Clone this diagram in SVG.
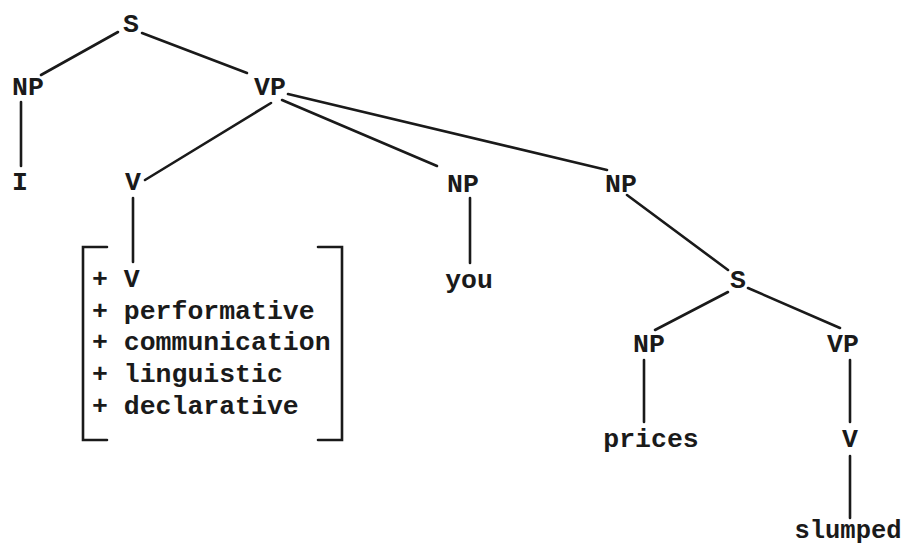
<svg xmlns="http://www.w3.org/2000/svg" width="907" height="548" viewBox="0 0 907 548">
<style>
text{font-family:"Liberation Mono","Courier New",monospace;font-weight:bold;font-size:26.5px;fill:#1a1a1a}
.n{text-anchor:middle}
.e line,.e path{stroke:#1a1a1a;stroke-width:2.6;fill:none;stroke-linecap:round}
</style>
<rect width="907" height="548" fill="#fff"/>
<g class="e" id="connectors">
<line x1="118" y1="32" x2="41" y2="75"/>
<line x1="142" y1="33" x2="247" y2="73"/>
<line x1="21" y1="102" x2="21" y2="166"/>
<line x1="271" y1="103" x2="145" y2="180"/>
<line x1="282" y1="100" x2="437" y2="166"/>
<line x1="288" y1="94" x2="607" y2="170"/>
<line x1="627" y1="195" x2="728" y2="270"/>
<line x1="133" y1="198" x2="133" y2="262"/>
<line x1="470" y1="198" x2="470" y2="263"/>
<line x1="728" y1="292" x2="655" y2="330"/>
<line x1="748" y1="288" x2="840" y2="328"/>
<line x1="644" y1="360" x2="644" y2="422"/>
<line x1="850" y1="360" x2="850" y2="422"/>
<line x1="850" y1="456" x2="850" y2="518"/>
<path d="M107 247 H83 V440 H107"/>
<path d="M318 247 H342 V440 H318"/>
</g>
<g id="S"><text class="n" x="131" y="32">S</text></g>
<g id="NP1"><text class="n" x="28" y="95">NP</text></g>
<g id="VP1"><text class="n" x="270" y="95">VP</text></g>
<g id="I"><text class="n" x="20" y="190">I</text></g>
<g id="V1"><text class="n" x="133" y="190">V</text></g>
<g id="NP2"><text class="n" x="463" y="192">NP</text></g>
<g id="you"><text class="n" x="469" y="288">you</text></g>
<g id="NP3"><text class="n" x="621" y="192">NP</text></g>
<g id="S2"><text class="n" x="738" y="288">S</text></g>
<g id="NP4"><text class="n" x="649" y="352">NP</text></g>
<g id="VP2"><text class="n" x="843" y="352">VP</text></g>
<g id="prices"><text class="n" x="651" y="447">prices</text></g>
<g id="V2"><text class="n" x="850" y="447">V</text></g>
<g id="slumped"><text class="n" x="848" y="538" style="font-size:25.5px">slumped</text></g>
<g id="features">
<text x="92" y="287">+ V</text>
<text x="92" y="319">+ performative</text>
<text x="92" y="350">+ communication</text>
<text x="92" y="382">+ linguistic</text>
<text x="92" y="414">+ declarative</text>
</g>
</svg>
